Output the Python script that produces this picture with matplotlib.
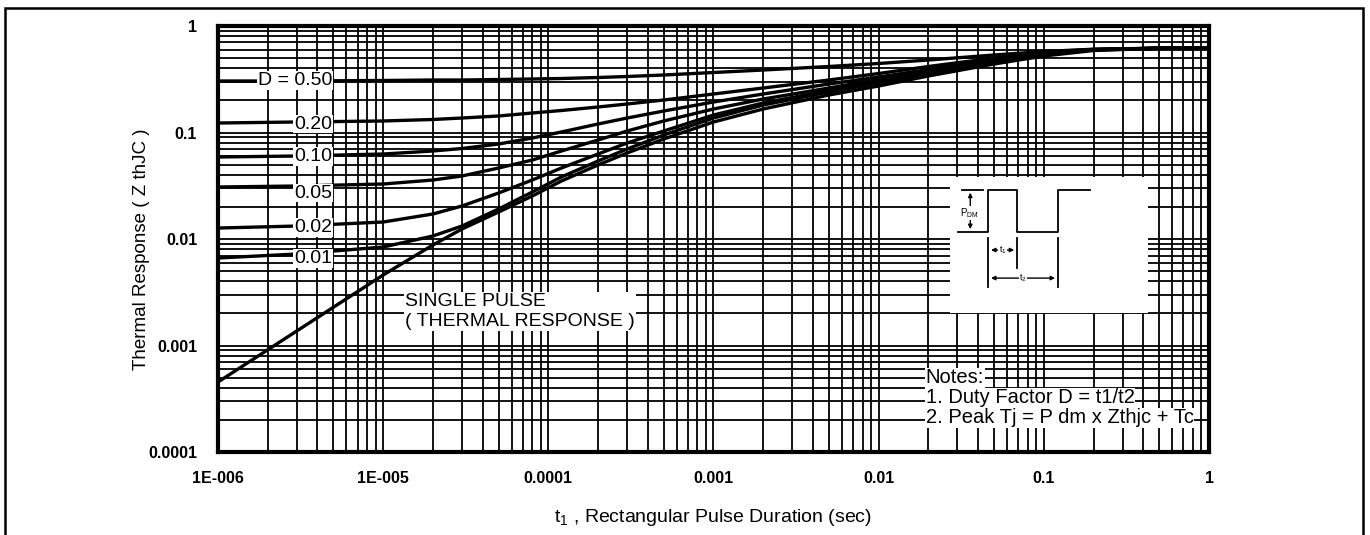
import numpy as np
import matplotlib
matplotlib.use("Agg")
import matplotlib.pyplot as plt
from matplotlib.patches import Rectangle

plt.rcParams['font.family'] = ['Liberation Sans', 'DejaVu Sans']

# pulse duration (sec)
t = [1e-6, 3e-6, 1e-5, 2e-5, 3e-5, 5e-5, 8e-5, 1.2e-4, 2e-4, 3e-4, 5e-4,
     1e-3, 2e-3, 5e-3, 1e-2, 2e-2, 5e-2, 0.1, 0.2, 0.5, 1]

# normalised transient thermal impedance for each duty factor
z_d50 = [0.3045, 0.3045, 0.3078, 0.3111, 0.3111, 0.3145, 0.3180, 0.3214, 0.3284, 0.3356, 0.3467,
         0.3659, 0.3862, 0.4167, 0.4446, 0.4795, 0.5342, 0.5763, 0.6055, 0.6188, 0.6215]
z_d20 = [0.1228, 0.1255, 0.1283, 0.1325, 0.1368, 0.1429, 0.1525, 0.1609, 0.1736, 0.1852, 0.2019,
         0.2299, 0.2617, 0.3111, 0.3581, 0.4167, 0.5006, 0.5701, 0.6029, 0.6188, 0.6215]
z_d10 = [0.05888, 0.06017, 0.06282, 0.06703, 0.07076, 0.07799, 0.08877, 0.1011, 0.1202, 0.1368, 0.1592,
         0.1934, 0.2299, 0.2854, 0.3320, 0.3905, 0.4847, 0.5578, 0.6003, 0.6188, 0.6215]
z_d05 = [0.03078, 0.03146, 0.03284, 0.03581, 0.03905, 0.04642, 0.05518, 0.06703, 0.08501, 0.1033, 0.1283,
         0.1662, 0.2063, 0.2617, 0.3145, 0.3780, 0.4795, 0.5518, 0.5990, 0.6188, 0.6215]
z_d02 = [0.01268, 0.01324, 0.01444, 0.01717, 0.02041, 0.02704, 0.03581, 0.04642, 0.06282, 0.07969, 0.1033,
         0.1460, 0.1892, 0.2479, 0.3012, 0.3659, 0.4692, 0.5459, 0.5978, 0.6188, 0.6215]
z_d01 = [0.006632, 0.007230, 0.008411, 0.01067, 0.01324, 0.01913, 0.02763, 0.03821, 0.05400, 0.06999, 0.09474,
         0.1368, 0.1812, 0.2400, 0.2916, 0.3581, 0.4592, 0.5400, 0.5952, 0.6188, 0.6215]
z_single = [0.000454, 0.001369, 0.004592, 0.008783, 0.01241, 0.01792, 0.02533, 0.03504, 0.04954, 0.06420, 0.08687,
            0.1255, 0.1662, 0.2250, 0.2733, 0.3393, 0.4398, 0.5228, 0.5888, 0.6175, 0.6215]

curves = [z_d50, z_d20, z_d10, z_d05, z_d02, z_d01, z_single]

# duty factor labels sitting on the curves
d_labels = ["D = 0.50", "0.20", "0.10", "0.05", "0.02", "0.01"]
d_label_y = [0.308, 0.120, 0.0595, 0.027, 0.0128, 0.0066]
d_label_x = 4.9e-6

x_ticks = [1e-6, 1e-5, 1e-4, 1e-3, 1e-2, 1e-1, 1]
x_ticklabels = ["1E-006", "1E-005", "0.0001", "0.001", "0.01", "0.1", "1"]
y_ticks = [1e-4, 1e-3, 1e-2, 1e-1, 1]
y_ticklabels = ["0.0001", "0.001", "0.01", "0.1", "1"]

fig = plt.figure(figsize=(13.7, 5.35), dpi=100)
ax = fig.add_axes([0.1591, 0.1551, 0.7234, 0.7963])

for z in curves:
    ax.plot(t, z, color='black', lw=2.4, solid_joinstyle='round', zorder=3)

ax.set_xscale('log')
ax.set_yscale('log')
ax.set_xlim(1e-6, 1)
ax.set_ylim(1e-4, 1)

ax.grid(True, which='both', color='black', lw=1.3, zorder=1)
ax.set_axisbelow(True)
ax.tick_params(which='both', length=0)
ax.set_xticks(x_ticks)
ax.set_xticklabels(x_ticklabels, fontsize=11.5, fontweight='bold')
ax.set_yticks(y_ticks)
ax.set_yticklabels(y_ticklabels, fontsize=11.5, fontweight='bold')
ax.tick_params(axis='x', pad=13.5)
ax.tick_params(axis='y', pad=15)
for s in ax.spines.values():
    s.set_linewidth(3)

ax.set_xlabel(r"t$_\mathregular{1}$ , Rectangular Pulse Duration (sec)", fontsize=14)
ax.xaxis.set_label_coords(0.5, -0.128)
ax.set_ylabel("Thermal Response ( Z thJC )", fontsize=13.5)
ax.yaxis.set_label_coords(-0.069, 0.475)

box = dict(facecolor='white', edgecolor='none', pad=0.5)
for lab, yv in zip(d_labels, d_label_y):
    ax.text(d_label_x, yv, lab, ha='right', va='center', fontsize=14, bbox=box, zorder=4)

ax.text(1.36e-5, 0.0021, "SINGLE PULSE\n( THERMAL RESPONSE )", ha='left', va='center',
        fontsize=14, linespacing=1.25, bbox=box, zorder=4)

notes = ["Notes:", "1. Duty Factor D = t1/t2", "2. Peak Tj = P dm x Zthjc + Tc"]
for i, s in enumerate(notes):
    ax.text(0.714, 0.174 - i * 0.047, s, transform=ax.transAxes, ha='left', va='center',
            fontsize=14.5, bbox=box, zorder=4)

# pulse sketch inset
ins = ax.inset_axes([0.739, 0.326, 0.199, 0.320])
ins.set_xlim(0, 1)
ins.set_ylim(0, 1)
ins.set_xticks([])
ins.set_yticks([])
for s in ins.spines.values():
    s.set_visible(False)
ins.set_facecolor('white')
ins.set_zorder(5)
kw = dict(color='black', lw=1.3)
ins.plot([0.04, 0.192, 0.192, 0.338, 0.338, 0.545, 0.545, 0.707],
         [0.596, 0.596, 0.904, 0.904, 0.596, 0.596, 0.904, 0.904], **kw)
ins.plot([0.061, 0.167], [0.904, 0.904], **kw)
arr = dict(arrowstyle='<|-|>', color='black', lw=1.0, mutation_scale=6)
ins.annotate("", xy=(0.101, 0.904), xytext=(0.101, 0.596), arrowprops=arr)
ins.text(0.096, 0.735, r"P$_{\mathregular{DM}}$", fontsize=7, ha='center', va='center',
         bbox=dict(facecolor='white', edgecolor='none', pad=0.3))
ins.plot([0.192, 0.192], [0.551, 0.191], **kw)
ins.plot([0.338, 0.338], [0.551, 0.331], **kw)
ins.plot([0.545, 0.545], [0.551, 0.191], **kw)
ins.annotate("", xy=(0.192, 0.463), xytext=(0.338, 0.463), arrowprops=arr)
ins.text(0.265, 0.463, r"t$_{\mathregular{1}}$", fontsize=6.5, ha='center', va='center',
         bbox=dict(facecolor='white', edgecolor='none', pad=0.2))
ins.annotate("", xy=(0.192, 0.257), xytext=(0.545, 0.257), arrowprops=arr)
ins.text(0.37, 0.257, r"t$_{\mathregular{2}}$", fontsize=6.5, ha='center', va='center',
         bbox=dict(facecolor='white', edgecolor='none', pad=0.2))

# page frame
fig.patches.append(Rectangle((0.004, -0.02), 0.991, 1.005, transform=fig.transFigure,
                             fill=False, edgecolor='black', lw=1.8))

fig.savefig("out.png", dpi=100)
